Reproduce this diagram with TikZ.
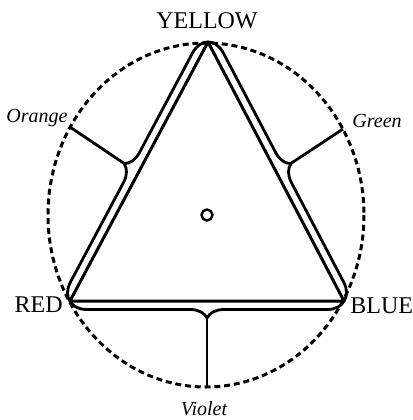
\documentclass[tikz,border=0pt]{standalone}
\usepackage{fontspec}
\setmainfont{Liberation Serif}
\usetikzlibrary{decorations.pathreplacing}
\begin{document}
\begin{tikzpicture}[x=0.5pt, y=-0.5pt,
  side/.style={line width=1.5pt, line join=round},
  bracket/.style={decorate, decoration={brace, amplitude=8.5pt}, line width=1.4pt},
  spoke/.style={line width=1.4pt},
  primary/.style={font=\fontsize{12}{14}\selectfont, inner sep=0pt},
  mixed/.style={font=\fontsize{10}{12}\selectfont\itshape, inner sep=0pt}]
\useasboundingbox (0,0) rectangle (413,420);
% colour wheel
\draw[line width=1.5pt, dash pattern=on 3pt off 1.9pt] (206,215) ellipse [x radius=158, y radius=172];
\coordinate (yellow) at (208,42);
\coordinate (red) at (70,301);
\coordinate (blue) at (344,301);
\draw[side] (red) -- (yellow) -- (blue) -- cycle;
\draw[bracket] (red) -- (yellow);
\draw[bracket] (yellow) -- (blue);
\draw[bracket] (blue) -- (red);
% spokes to the mixed colours
\coordinate (otip) at (125,164);
\coordinate (gtip) at (290,164);
\coordinate (vtip) at (207,318);
\coordinate (opt) at (70,127);
\coordinate (gpt) at (343,129);
\coordinate (vpt) at (207,387);
\draw[spoke] (otip) -- (opt);
\draw[spoke] (gtip) -- (gpt);
\draw[spoke] (vtip) -- (vpt);
\node[draw, circle, inner sep=0pt, minimum size=5.5pt, line width=1.2pt] (centre) at (207,215) {};
% labels
\node[primary] (ylab) at (207,21) {YELLOW};
\node[primary, anchor=east] (rlab) at (63,305) {RED};
\node[primary, anchor=west] (blab) at (350,306) {BLUE};
\node[mixed, anchor=base east] (olab) at (68,122) {Orange};
\node[mixed, anchor=base west] (glab) at (352,127) {Green};
\node[mixed, anchor=base] (vlab) at (204,415) {Violet};
\end{tikzpicture}
\end{document}
